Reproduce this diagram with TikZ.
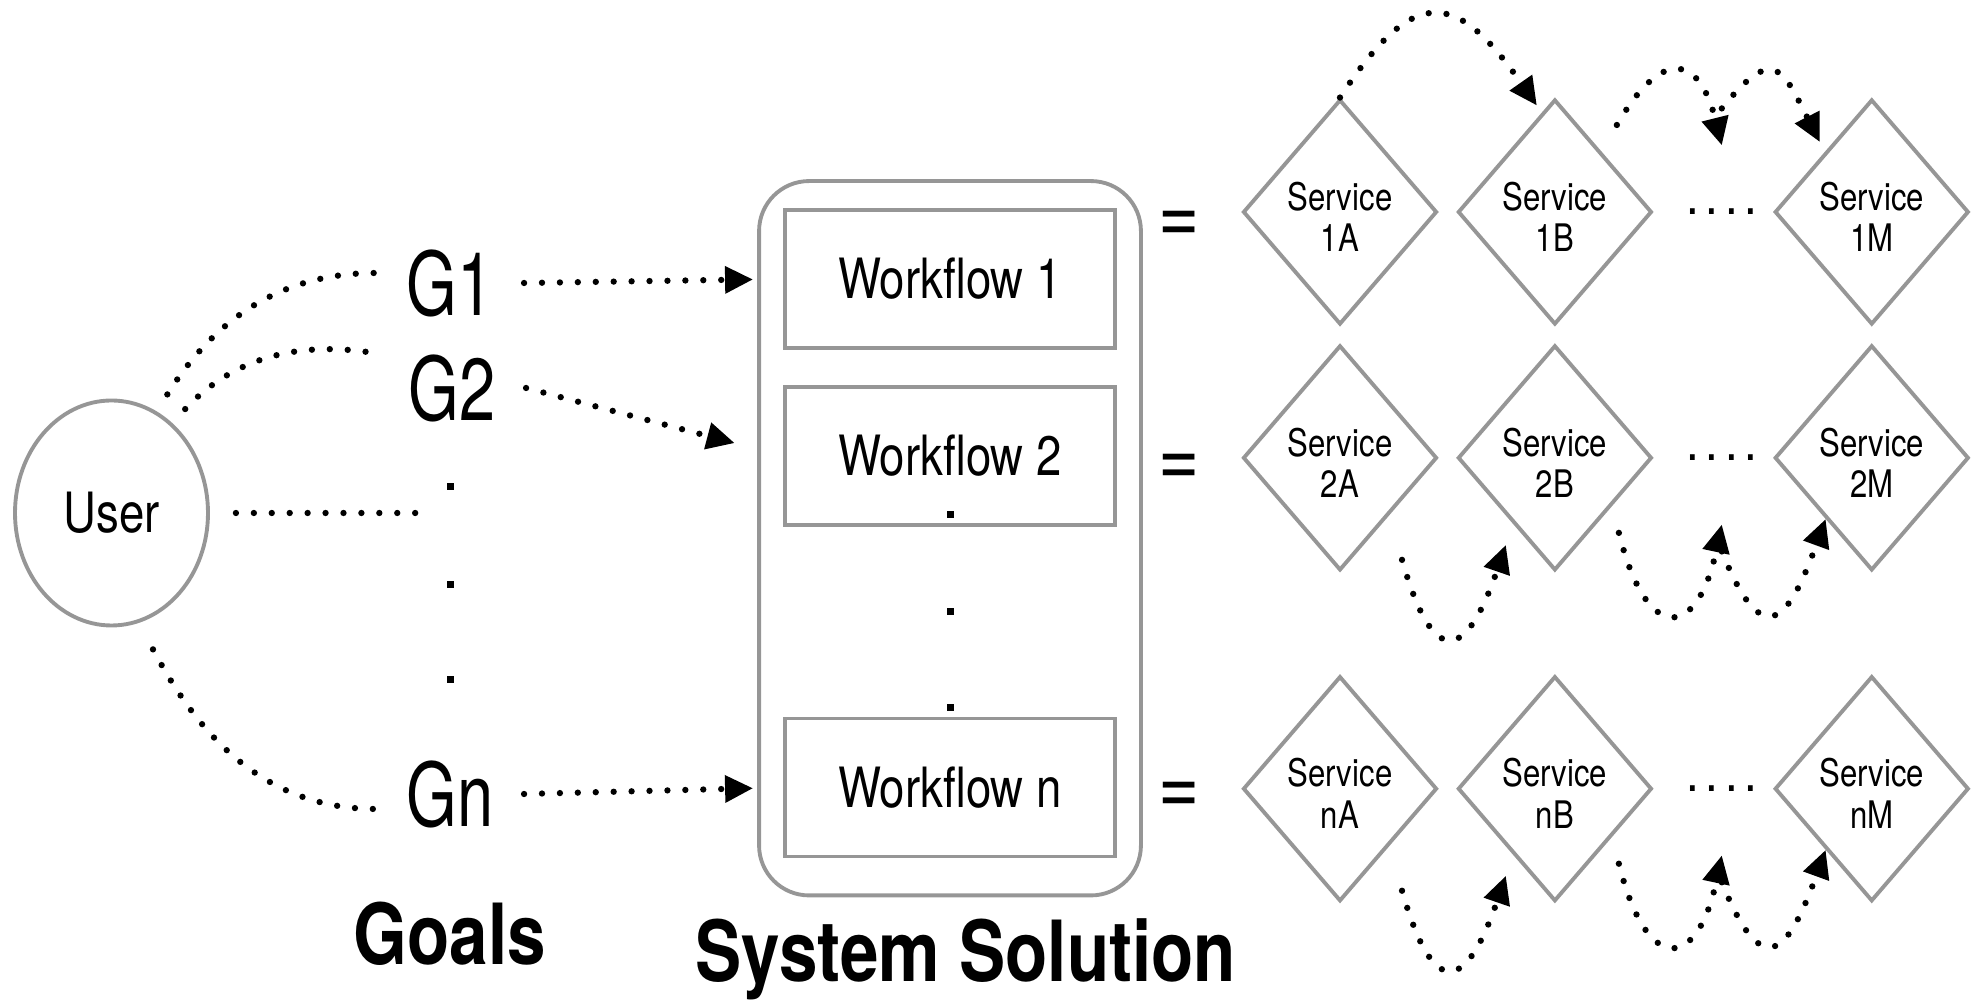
\documentclass[tikz,border=0pt]{standalone}
\usepackage{fontspec}
\setmainfont{TeX Gyre Heros}[FakeStretch=0.82]
\newfontfamily\glabelfamily{TeX Gyre Heros}[FakeStretch=0.74]
\usepackage{tikz}
\usetikzlibrary{shapes.geometric, arrows.meta, positioning, fit}
\definecolor{edgegray}{RGB}{150,150,150}
\newcommand{\goalfont}{\glabelfamily\fontsize{25pt}{30pt}\selectfont}
\newcommand{\eqfont}{\fontsize{24.5pt}{28pt}\selectfont}
\newcommand{\boxfont}{\fontsize{15.8pt}{19pt}\selectfont}
\newcommand{\servfont}{\fontsize{10.8pt}{11.9pt}\selectfont}
\newcommand{\titlefont}{\fontsize{24pt}{28pt}\selectfont\bfseries}
\tikzset{
    userball/.style={ellipse, draw=edgegray, line width=1.1pt, minimum width=1.93cm, minimum height=2.25cm, inner sep=0pt, font=\boxfont},
    goal/.style={font=\goalfont, inner xsep=0.3cm, inner ysep=0pt},
    workflow/.style={rectangle, draw=edgegray, line width=1.1pt, minimum width=3.3cm, minimum height=1.38cm, font=\boxfont},
    service/.style={diamond, aspect=0.8, draw=edgegray, line width=1.1pt, minimum width=1.94cm, minimum height=2.25cm, inner sep=0.5pt, align=center, text height=0.8cm, font=\servfont},
    eqsign/.style={font=\eqfont, inner sep=0pt},
    ellip/.style={font=\boxfont, inner sep=0pt},
    heading/.style={font=\titlefont, anchor=base},
    dotline/.style={line width=1.8pt, line cap=round, dash pattern=on 0pt off 5.1pt},
    flowarrow/.style={dotline, -{Triangle[length=0.28cm, width=0.26cm]}}
}
\newcommand{\fourdots}{.\kern0.12em.\kern0.12em.\kern0.12em.}

\begin{document}
\begin{tikzpicture}
    \useasboundingbox (0,0) rectangle (19.83,10.02);

    % user and goals
    \node (user) [userball] at (1.115,4.89) {User};
    \node (g1) [goal] at (4.5,7.19) {G1};
    \node (g2) [goal] at (4.52,6.14) {G2};
    \node (gn) [goal] at (4.5,2.08) {Gn};
    \coordinate (gmid) at (4.24,4.89);
    \foreach \y in {5.115,4.135,3.185}
        \fill (4.465,\y) rectangle ++(0.07,0.07);

    \draw [dotline, shorten <=0.2cm] (user.66) to[out=58,in=180] ([yshift=0.1cm]g1.west);
    \draw [dotline, shorten <=0.19cm] (user.56) to[out=47,in=170] (g2.north west);
    \draw [dotline, shorten <=0.26cm] (user) -- (gmid);
    \draw [dotline, shorten <=0.3cm] (user.-76) to[out=-62,in=180] ([yshift=-0.15cm]gn.west);

    % system solution
    \node (w1) [workflow] at (9.5,7.23) {Workflow 1};
    \node (w2) [workflow, below=0.35cm of w1] {Workflow 2};
    \node (wn) [workflow] at (9.5,2.145) {Workflow n};
    \node (sys) [fit=(w1)(wn), draw=edgegray, line width=1.1pt, rounded corners=0.5cm, inner xsep=0.24cm, inner ysep=0.32cm, yshift=-0.05cm] {};
    \foreach \y in {4.835,3.865,2.905}
        \fill (9.465,\y) rectangle ++(0.07,0.07);

    \draw [flowarrow, shorten >=0.3cm] (g1.east) -- (w1.west);
    \draw [flowarrow, shorten >=0.5cm] (g2.east) -- (w2.west);
    \draw [flowarrow, shorten >=0.3cm] (gn.east) -- (wn.west);

    \node (eq1) [eqsign] at (11.79,7.75) {=};
    \node (eq2) [eqsign] at (11.79,5.32) {=};
    \node (eqn) [eqsign] at (11.79,2.04) {=};

    % services, one row per workflow
    \node (s1a) [service] at (13.4,7.9) {Service\\1A};
    \node (s1b) [service, right=0.17cm of s1a] {Service\\1B};
    \node (dots1) [ellip, right=0.32cm of s1b] {\fourdots};
    \node (s1m) [service, right=1.19cm of s1b] {Service\\1M};

    \node (s2a) [service, below=0.17cm of s1a] {Service\\2A};
    \node (s2b) [service, right=0.17cm of s2a] {Service\\2B};
    \node (dots2) [ellip, right=0.32cm of s2b] {\fourdots};
    \node (s2m) [service, right=1.19cm of s2b] {Service\\2M};

    \node (sna) [service, below=1.02cm of s2a] {Service\\nA};
    \node (snb) [service, right=0.17cm of sna] {Service\\nB};
    \node (dotsn) [ellip, right=0.32cm of snb] {\fourdots};
    \node (snm) [service, right=1.19cm of snb] {Service\\nM};

    % calls between services
    \draw [flowarrow] (s1a.north) to[out=57,in=125,looseness=1.8] ([shift={(-0.18,-0.08)}]s1b.north);
    \draw [flowarrow] ([shift={(0.62,0.87)}]s1b.center) to[out=60,in=104,looseness=2.2] ([yshift=0.63cm]dots1.north);
    \draw [flowarrow] ([yshift=1.0cm]dots1.north) to[out=51,in=117,looseness=2.05] ([shift={(-0.52,0.7)}]s1m.center);

    \draw [flowarrow] ([shift={(0.62,-1.02)}]s2a.center) to[out=-74,in=251,looseness=2.9] ([shift={(-0.49,-0.87)}]s2b.center);
    \draw [flowarrow] ([shift={(0.64,-0.75)}]s2b.center) to[out=-76,in=258,looseness=2.9] ([yshift=-0.63cm]dots2.south);
    \draw [flowarrow] ([yshift=-0.9cm]dots2.south) to[out=-68,in=250,looseness=2.6] (s2m.233);

    \draw [flowarrow] ([shift={(0.62,-1.02)}]sna.center) to[out=-74,in=251,looseness=2.9] ([shift={(-0.49,-0.87)}]snb.center);
    \draw [flowarrow] ([shift={(0.64,-0.75)}]snb.center) to[out=-76,in=258,looseness=2.9] ([yshift=-0.63cm]dotsn.south);
    \draw [flowarrow] ([yshift=-0.9cm]dotsn.south) to[out=-68,in=250,looseness=2.6] (snm.233);

    % captions
    \node (goals) [heading] at (4.5,0.37) {Goals};
    \node (syssol) [heading] at (9.66,0.2) {System Solution};
\end{tikzpicture}
\end{document}
